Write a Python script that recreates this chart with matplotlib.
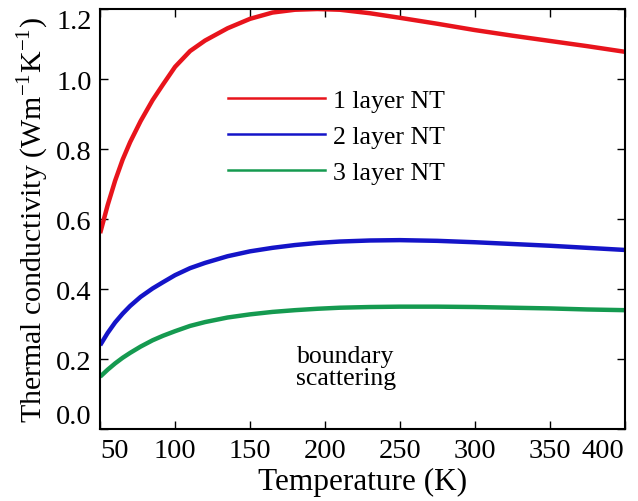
import numpy as np
import matplotlib
matplotlib.use('Agg')
import matplotlib.pyplot as plt
from matplotlib.lines import Line2D

plt.rcParams['font.family'] = ['Liberation Serif', 'DejaVu Serif']
plt.rcParams['mathtext.fontset'] = 'custom'
plt.rcParams['mathtext.rm'] = 'Liberation Serif'

# data
temp = [50, 55, 60, 65, 70, 77, 85, 92, 100, 110, 120, 135, 150, 165, 180, 195, 210,
        230, 250, 275, 300, 325, 350, 375, 400]
k_1layer = [0.56, 0.64, 0.71, 0.77, 0.82, 0.88, 0.94, 0.985, 1.035, 1.08, 1.11, 1.145,
            1.172, 1.19, 1.198, 1.2, 1.198, 1.188, 1.175, 1.158, 1.14, 1.124, 1.109,
            1.094, 1.078]
k_2layer = [0.24, 0.275, 0.305, 0.33, 0.352, 0.378, 0.402, 0.42, 0.44, 0.46, 0.475, 0.494,
            0.508, 0.518, 0.526, 0.532, 0.536, 0.539, 0.54, 0.538, 0.534, 0.529, 0.524,
            0.518, 0.512]
k_3layer = [0.15, 0.17, 0.188, 0.204, 0.218, 0.236, 0.254, 0.267, 0.28, 0.295, 0.306, 0.319,
            0.328, 0.335, 0.34, 0.344, 0.347, 0.349, 0.35, 0.35, 0.349, 0.347, 0.345,
            0.342, 0.34]
labels = ['1 layer NT', '2 layer NT', '3 layer NT']
colors = ['#e8141c', '#1414c8', '#159a50']
xticks = [50, 100, 150, 200, 250, 300, 350, 400]
yticks = [0.0, 0.2, 0.4, 0.6, 0.8, 1.0, 1.2]

fig = plt.figure(figsize=(6.38, 5.02), dpi=100)
ax = fig.add_axes([0.157, 0.143, 0.822, 0.837])

for y, c in zip([k_1layer, k_2layer, k_3layer], colors):
    ax.plot(temp, y, color=c, lw=3.2, solid_capstyle='butt')

ax.set_xlim(50, 400)
ax.set_ylim(0.0, 1.2)
ax.set_xticks(xticks)
ax.set_yticks(yticks)
ax.set_xticklabels([str(t) for t in xticks])
ax.set_yticklabels(['%.1f' % v for v in yticks])
ax.tick_params(direction='in', length=6, width=1, labelsize=20.5, top=True, right=True,
               pad=6)
# keep end labels inside the frame like the original
xl = ax.get_xticklabels()
xl[0].set_ha('left')
xl[-1].set_ha('right')
yl = ax.get_yticklabels()
yl[0].set_va('bottom')
yl[-1].set_va('top')
for s in ax.spines.values():
    s.set_linewidth(1.5)

ax.set_xlabel('Temperature (K)', fontsize=22.5, labelpad=3)
ax.set_ylabel('Thermal conductivity (Wm$^{\\mathregular{-1}}$K$^{\\mathregular{-1}}$)',
              fontsize=21.5, labelpad=4)

handles = [Line2D([], [], color=c, lw=1.8) for c in colors]
ax.legend(handles, labels, loc='upper left', bbox_to_anchor=(0.243, 0.81), frameon=False,
          fontsize=18.5, handlelength=3.8, handletextpad=0.3, labelspacing=0.5, borderpad=0,
          borderaxespad=0)

ax.text(0.469, 0.148, 'boundary\nscattering', transform=ax.transAxes, ha='center', va='center',
        multialignment='center', fontsize=18.5, linespacing=1.05)

fig.savefig('out.png', dpi=100)
